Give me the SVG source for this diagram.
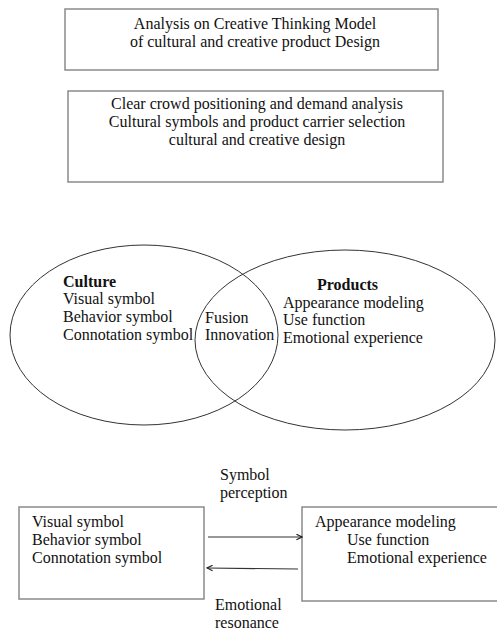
<svg xmlns="http://www.w3.org/2000/svg" width="497" height="633" viewBox="0 0 497 633">
<defs>
<style>
text{font-family:"Liberation Serif","Times New Roman",serif;font-size:16px;fill:#111}
.c{text-anchor:middle}
.b{font-weight:bold}
.box{fill:#fff;stroke:#8a8a8a;stroke-width:1.5}
.ell{fill:none;stroke:#333;stroke-width:1}
.con{fill:none;stroke:#333;stroke-width:1.2}
</style>
<marker id="ah" viewBox="0 0 10 10" refX="9" refY="5" markerWidth="7" markerHeight="7" markerUnits="userSpaceOnUse" orient="auto">
<path d="M1,1 L9,5 L1,9" fill="none" stroke="#222" stroke-width="1.6"/>
</marker>
</defs>
<rect width="497" height="633" fill="#fff"/>
<g id="title">
<rect class="box" x="65" y="9" width="373" height="61"/>
<text class="c" x="255" y="29">Analysis on Creative Thinking Model</text>
<text class="c" x="255" y="47">of cultural and creative product Design</text>
</g>
<g id="steps">
<rect class="box" x="68" y="91" width="375" height="91"/>
<text class="c" x="257" y="109">Clear crowd positioning and demand analysis</text>
<text class="c" x="257" y="127">Cultural symbols and product carrier selection</text>
<text class="c" x="257" y="145">cultural and creative design</text>
</g>
<g id="culture">
<ellipse class="ell" cx="144" cy="335" rx="134" ry="90"/>
<text class="b" x="63" y="287">Culture</text>
<text x="63" y="304">Visual symbol</text>
<text x="63" y="322">Behavior symbol</text>
<text x="63" y="340">Connotation symbol</text>
</g>
<g id="products">
<ellipse class="ell" cx="345" cy="340" rx="150" ry="90"/>
<text class="b" x="317" y="290">Products</text>
<text x="283" y="308">Appearance modeling</text>
<text x="283" y="325">Use function</text>
<text x="283" y="343">Emotional experience</text>
</g>
<g id="fusion">
<text x="205" y="323">Fusion</text>
<text x="205" y="340">Innovation</text>
</g>
<g id="symbols">
<rect class="box" x="19" y="507" width="185" height="92"/>
<text x="32" y="527">Visual symbol</text>
<text x="32" y="545">Behavior symbol</text>
<text x="32" y="563">Connotation symbol</text>
</g>
<g id="product-attrs">
<path class="box" d="M497,507 H302 V601 H497"/>
<text x="315" y="527">Appearance modeling</text>
<text x="347" y="545">Use function</text>
<text x="347" y="563">Emotional experience</text>
</g>
<g id="connectors">
<line class="con" x1="208" y1="537" x2="302" y2="537" marker-end="url(#ah)"/>
<line class="con" x1="298" y1="569" x2="207" y2="568" marker-end="url(#ah)"/>
<text x="220" y="480">Symbol</text>
<text x="220" y="498">perception</text>
<text x="215" y="610">Emotional</text>
<text x="215" y="628">resonance</text>
</g>
</svg>
